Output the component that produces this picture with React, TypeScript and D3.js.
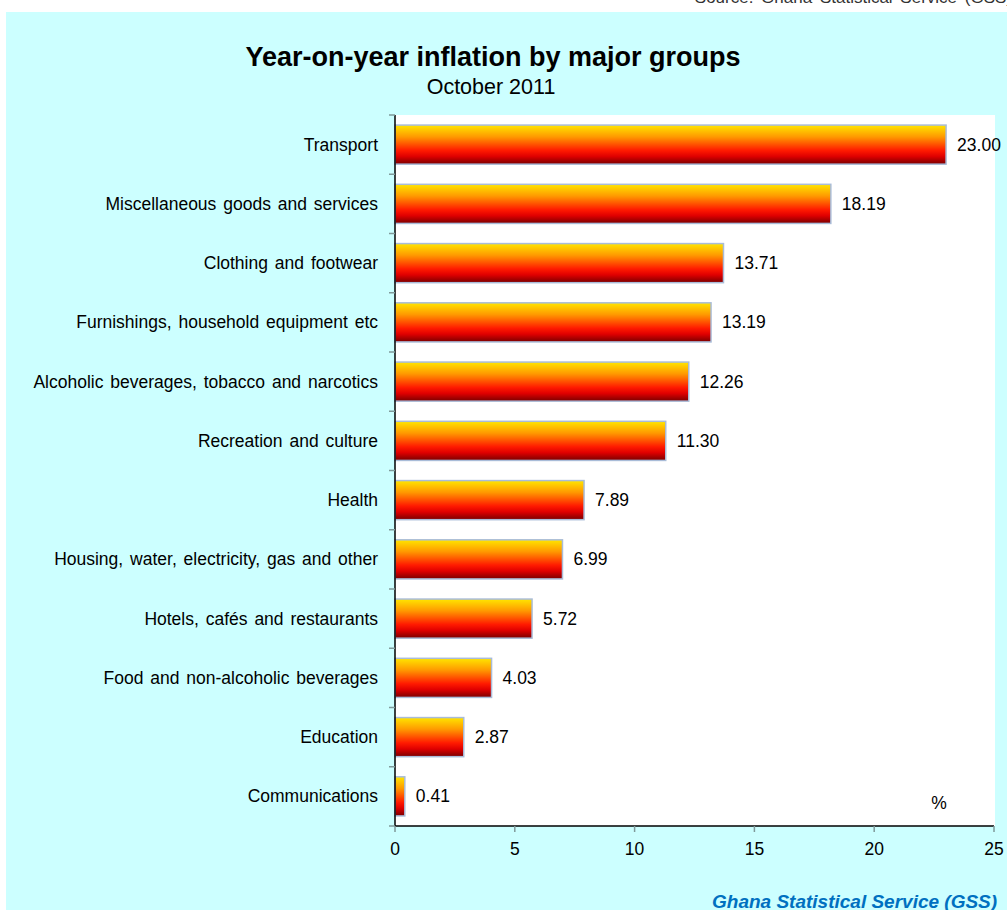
import { useEffect, useRef } from 'react';
import * as d3 from 'd3';

const categories = [
  'Transport',
  'Miscellaneous goods and services',
  'Clothing and footwear',
  'Furnishings, household equipment etc',
  'Alcoholic beverages, tobacco and narcotics',
  'Recreation and culture',
  'Health',
  'Housing, water, electricity, gas and other',
  'Hotels, cafés and restaurants',
  'Food and non-alcoholic beverages',
  'Education',
  'Communications',
];
const values = [23.0, 18.19, 13.71, 13.19, 12.26, 11.3, 7.89, 6.99, 5.72, 4.03, 2.87, 0.41];
const xTicks = [0, 5, 10, 15, 20, 25];

const W = 1007;
const H = 910;
const FONT = '"Liberation Sans", Arial, sans-serif';
const LABEL_SIZE = 17.5;

export default function App() {
  const svgRef = useRef<SVGSVGElement>(null);

  useEffect(() => {
    document.body.style.margin = '0';
    if (!svgRef.current) return;
    const svg = d3.select(svgRef.current);
    svg.selectAll('*').remove();

    const plot = { left: 395, right: 994, top: 115, bottom: 826 };

    const x = d3.scaleLinear().domain([0, 25]).range([plot.left, plot.right]);
    const y = d3
      .scaleBand()
      .domain(categories)
      .range([plot.top, plot.bottom])
      .paddingInner(0.34)
      .paddingOuter(0.17);

    // gradient for bars
    const defs = svg.append('defs');
    const grad = defs
      .append('linearGradient')
      .attr('id', 'barGrad')
      .attr('x1', 0)
      .attr('y1', 0)
      .attr('x2', 0)
      .attr('y2', 1);
    [
      ['0%', '#ffe600'],
      ['30%', '#ff9900'],
      ['65%', '#ff1a00'],
      ['80%', '#e00000'],
      ['100%', '#7a0000'],
    ].forEach(([o, c]) => grad.append('stop').attr('offset', o).attr('stop-color', c));

    // backgrounds
    svg.append('rect').attr('width', W).attr('height', H).attr('fill', '#ffffff');
    svg
      .append('rect')
      .attr('x', 6)
      .attr('y', 12)
      .attr('width', W - 6)
      .attr('height', H - 12)
      .attr('fill', '#ccffff');
    svg
      .append('rect')
      .attr('x', plot.left)
      .attr('y', plot.top)
      .attr('width', plot.right - plot.left + 1)
      .attr('height', plot.bottom - plot.top)
      .attr('fill', '#ffffff');

    // source text, cut at top edge as in the original
    svg
      .append('text')
      .attr('x', 1012)
      .attr('y', 3)
      .attr('text-anchor', 'end')
      .attr('font-family', FONT)
      .attr('font-size', 17)
      .attr('word-spacing', 3)
      .attr('fill', '#333')
      .text('Source: Ghana Statistical Service (GSS)');

    // title
    svg
      .append('text')
      .attr('x', 493)
      .attr('y', 66)
      .attr('text-anchor', 'middle')
      .attr('font-family', FONT)
      .attr('font-size', 27)
      .attr('font-weight', 'bold')
      .attr('fill', '#000')
      .text('Year-on-year inflation by major groups');
    svg
      .append('text')
      .attr('x', 491)
      .attr('y', 94)
      .attr('text-anchor', 'middle')
      .attr('font-family', FONT)
      .attr('font-size', 21.5)
      .attr('fill', '#000')
      .text('October 2011');

    // bars
    const bars = svg.append('g');
    categories.forEach((c, i) => {
      const v = values[i];
      bars
        .append('rect')
        .attr('x', x(0))
        .attr('y', y(c)!)
        .attr('width', x(v) - x(0))
        .attr('height', y.bandwidth())
        .attr('fill', 'url(#barGrad)')
        .attr('stroke', '#a9bcd8')
        .attr('stroke-width', 1.5);
      bars
        .append('text')
        .attr('x', x(v) + 11)
        .attr('y', y(c)! + y.bandwidth() / 2)
        .attr('dominant-baseline', 'central')
        .attr('font-family', FONT)
        .attr('font-size', LABEL_SIZE)
        .attr('fill', '#000')
        .text(v.toFixed(2));
    });

    // y axis
    const yg = svg.append('g');
    yg.append('line')
      .attr('x1', plot.left)
      .attr('x2', plot.left)
      .attr('y1', plot.top)
      .attr('y2', plot.bottom)
      .attr('stroke', '#000')
      .attr('stroke-width', 1.5);
    d3.range(categories.length + 1).forEach((i) => {
      const yy = plot.top + i * ((plot.bottom - plot.top) / categories.length);
      yg.append('line')
        .attr('x1', plot.left - 6)
        .attr('x2', plot.left)
        .attr('y1', yy)
        .attr('y2', yy)
        .attr('stroke', '#7f9a9a')
        .attr('stroke-width', 1.5);
    });
    categories.forEach((c) => {
      yg.append('text')
        .attr('x', 378)
        .attr('y', y(c)! + y.bandwidth() / 2)
        .attr('text-anchor', 'end')
        .attr('dominant-baseline', 'central')
        .attr('font-family', FONT)
        .attr('font-size', LABEL_SIZE)
        .attr('word-spacing', 2)
        .attr('fill', '#000')
        .text(c);
    });

    // x axis
    const xg = svg.append('g');
    xg.append('line')
      .attr('x1', plot.left)
      .attr('x2', plot.right)
      .attr('y1', plot.bottom)
      .attr('y2', plot.bottom)
      .attr('stroke', '#000')
      .attr('stroke-width', 1.5);
    xTicks.forEach((t) => {
      xg.append('line')
        .attr('x1', x(t))
        .attr('x2', x(t))
        .attr('y1', plot.bottom)
        .attr('y2', plot.bottom + 6)
        .attr('stroke', '#7f9a9a')
        .attr('stroke-width', 1.5);
      xg.append('text')
        .attr('x', x(t))
        .attr('y', plot.bottom + 29)
        .attr('text-anchor', 'middle')
        .attr('font-family', FONT)
        .attr('font-size', LABEL_SIZE)
        .attr('fill', '#000')
        .text(t);
    });

    // unit
    svg
      .append('text')
      .attr('x', 939)
      .attr('y', 809)
      .attr('text-anchor', 'middle')
      .attr('font-family', FONT)
      .attr('font-size', LABEL_SIZE)
      .attr('fill', '#000')
      .text('%');

    // footer
    svg
      .append('text')
      .attr('x', 712)
      .attr('y', 908)
      .attr('font-family', FONT)
      .attr('font-size', 19)
      .attr('font-weight', 'bold')
      .attr('font-style', 'italic')
      .attr('fill', '#0070c0')
      .text('Ghana Statistical Service (GSS)');
  }, []);

  return <svg ref={svgRef} width={W} height={H} style={{ display: 'block' }} />;
}
